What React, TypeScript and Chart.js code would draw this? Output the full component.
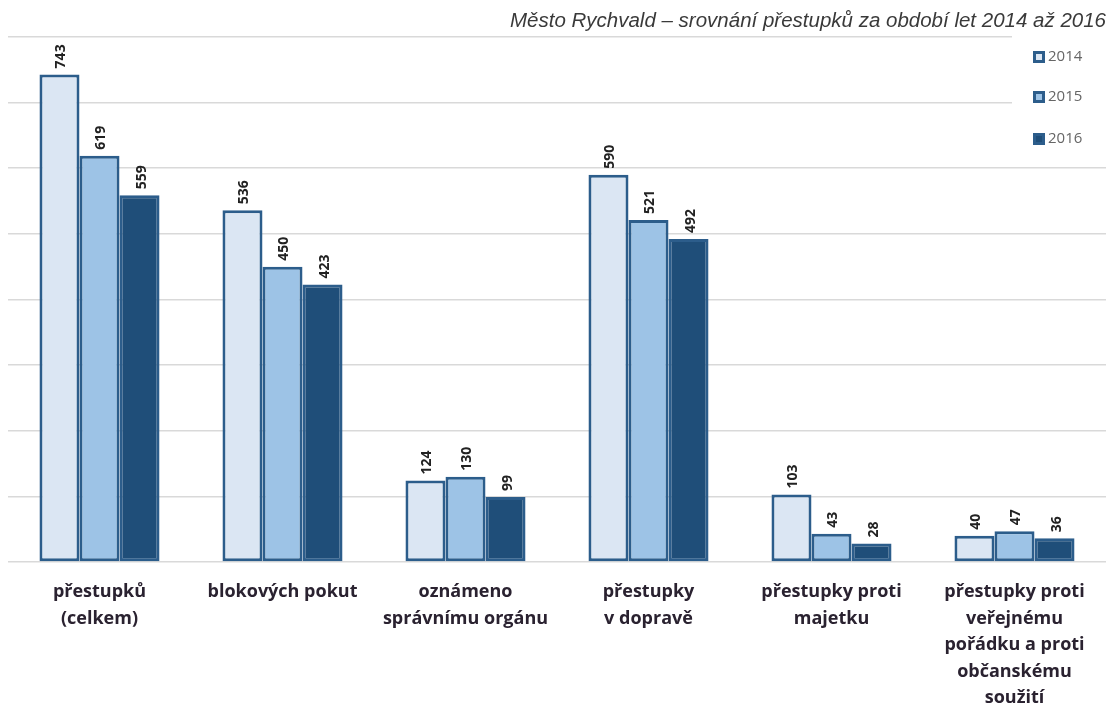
import React, { useEffect, useRef } from "react";
import { Chart, registerables } from "chart.js";

Chart.register(...registerables);

const categories: string[][] = [
  ["přestupků", "(celkem)"],
  ["blokových pokut"],
  ["oznámeno", "správnímu orgánu"],
  ["přestupky", "v dopravě"],
  ["přestupky proti", "majetku"],
  ["přestupky proti", "veřejnému", "pořádku a proti", "občanskému", "soužití"],
];
const seriesNames = ["2014", "2015", "2016"];
const values2014 = [743, 536, 124, 590, 103, 40];
const values2015 = [619, 450, 130, 521, 43, 47];
const values2016 = [559, 423, 99, 492, 28, 36];
const titleText = "Město Rychvald – srovnání přestupků za období let 2014 až 2016";

const fills = ["#dbe6f3", "#9dc3e6", "#1f4e79"];
const borderColor = "#2c5d8b";

const valueLabels = {
  id: "valueLabels",
  afterDatasetsDraw(chart: any) {
    const ctx = chart.ctx;
    ctx.save();
    ctx.font = "bold 14px 'Open Sans', sans-serif";
    ctx.fillStyle = "#222";
    ctx.textAlign = "left";
    ctx.textBaseline = "middle";
    chart.data.datasets.forEach((ds: any, di: number) => {
      const meta = chart.getDatasetMeta(di);
      meta.data.forEach((el: any, i: number) => {
        ctx.save();
        ctx.translate(el.x + 2, el.y - 6);
        ctx.rotate(-Math.PI / 2);
        ctx.fillText(String(ds.data[i]), 0, 0);
        ctx.restore();
      });
    });
    ctx.restore();
  },
};

const sideLegend = {
  id: "sideLegend",
  afterDraw(chart: any) {
    const ctx = chart.ctx;
    ctx.save();
    ctx.fillStyle = "#ffffff";
    ctx.fillRect(1012, 34, 102, 124);
    const ys = [57, 97, 139];
    chart.data.datasets.forEach((ds: any, i: number) => {
      const x = 1033;
      const y = ys[i] - 6;
      ctx.fillStyle = borderColor;
      ctx.fillRect(x, y, 12, 12);
      ctx.fillStyle = ds.backgroundColor;
      ctx.fillRect(x + 3, y + 3, 6, 6);
      ctx.fillStyle = "#666";
      ctx.font = "15px 'Open Sans', sans-serif";
      ctx.textAlign = "left";
      ctx.textBaseline = "middle";
      ctx.fillText(ds.label, x + 15, ys[i]);
    });
    ctx.restore();
  },
};

export default function App() {
  const ref = useRef<HTMLCanvasElement>(null);
  useEffect(() => {
    document.body.style.margin = "0";
    if (!ref.current) return;
    const chart = new Chart(ref.current, {
      type: "bar",
      data: {
        labels: categories,
        datasets: [values2014, values2015, values2016].map((d, i) => ({
          label: seriesNames[i],
          data: d,
          backgroundColor: fills[i],
          borderColor: borderColor,
          borderWidth: 3,
          borderSkipped: false,
          categoryPercentage: 0.656,
          barPercentage: 1.0,
        })),
      },
      options: {
        animation: false,
        responsive: false,
        maintainAspectRatio: false,
        layout: { padding: { left: 8, right: 8, top: 0, bottom: 0 } },
        plugins: {
          legend: { display: false },
          tooltip: { enabled: false },
          title: {
            display: true,
            text: titleText,
            align: "end",
            color: "#3a3a3a",
            font: { family: "'Liberation Sans', Arial, sans-serif", size: 20.5, style: "italic", weight: "normal", lineHeight: 1.15 },
            padding: { top: 10, bottom: 3.4 },
          },
        },
        scales: {
          x: {
            grid: { display: false },
            border: { display: false },
            ticks: {
              color: "#2a2230",
              font: { family: "'Open Sans', sans-serif", size: 18, weight: "bold", lineHeight: 1.47 },
              padding: 9,
              maxRotation: 0,
              autoSkip: false,
            },
            afterFit: (scale: any) => {
              scale.height = 147;
            },
          },
          y: {
            min: 0,
            max: 800,
            ticks: { display: false, stepSize: 100 },
            border: { display: false },
            grid: { color: "#d9d9d9", lineWidth: 1.5, drawTicks: false },
          },
        },
      },
      plugins: [valueLabels, sideLegend],
    });
    return () => chart.destroy();
  }, []);
  return (
    <div style={{ width: 1114, height: 709 }}>
      <canvas ref={ref} width={1114} height={709} style={{ display: "block" }} />
    </div>
  );
}
